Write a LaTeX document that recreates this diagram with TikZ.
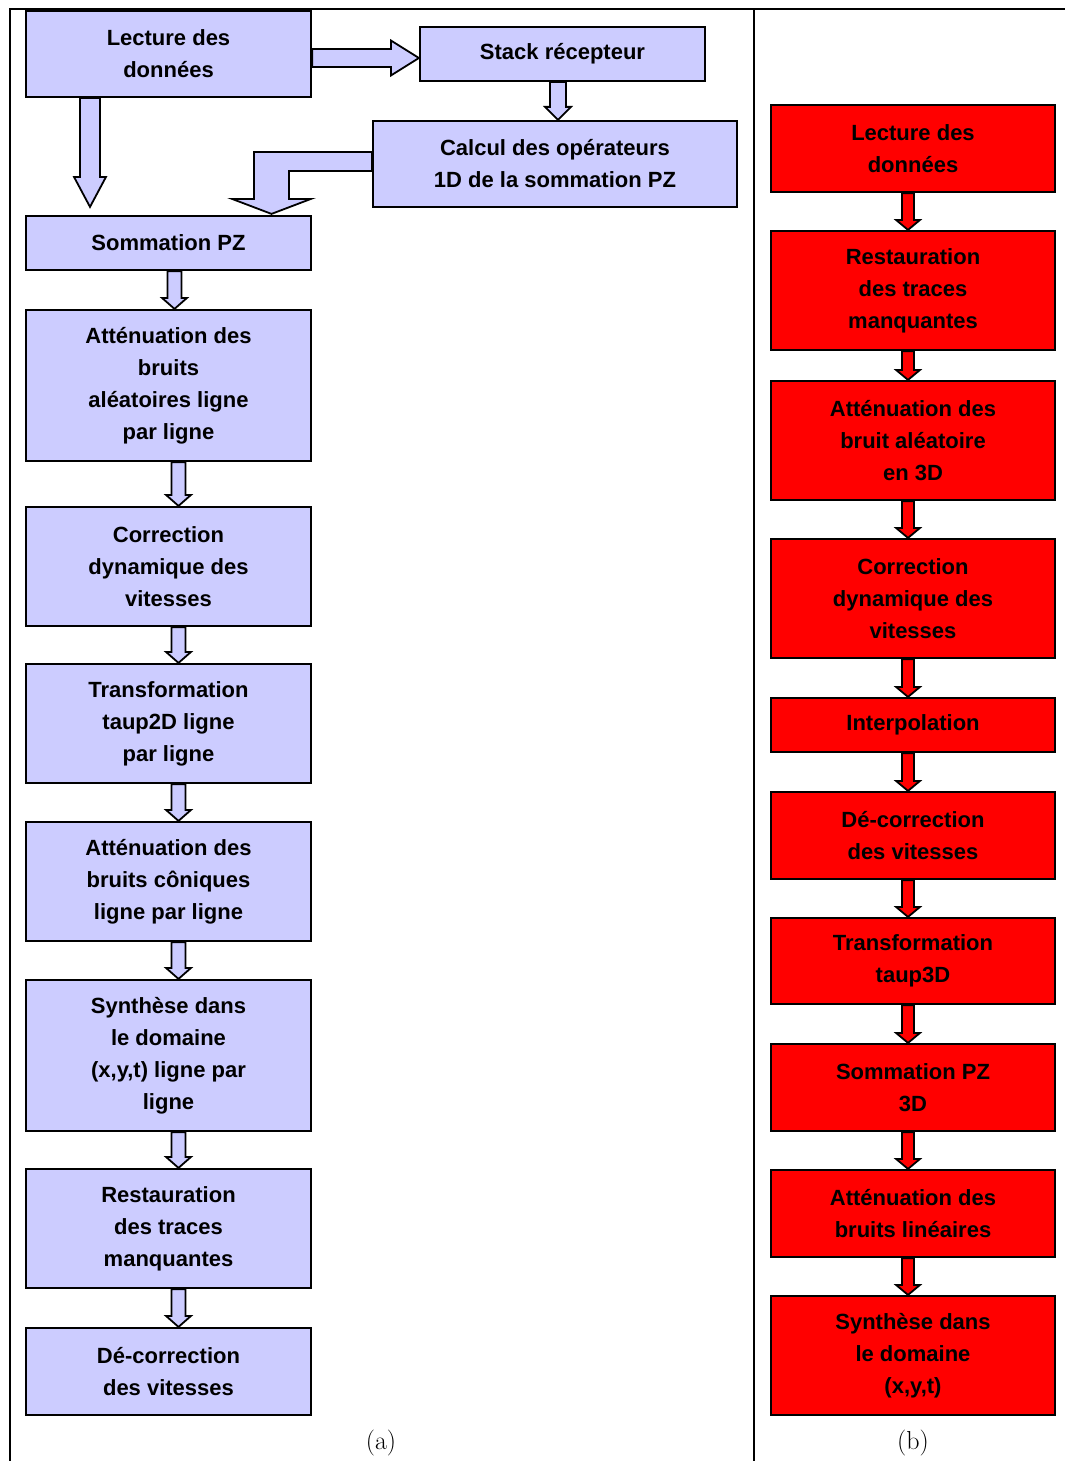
\documentclass[tikz,border=0pt]{standalone}
\usepackage{fontspec}
\newfontfamily\boxfont{Liberation Sans}
\usetikzlibrary{calc}
\definecolor{boxblue}{RGB}{204,204,255}
\definecolor{boxred}{RGB}{255,0,0}
\tikzset{
  boxA/.style={draw=black,line width=2.2pt,fill=boxblue,minimum width=285pt,inner sep=0pt,
    align=center,font=\boxfont\bfseries\fontsize{22}{32}\selectfont},
  boxB/.style={boxA,fill=boxred,minimum width=284pt},
  flowA/.style={draw=black,line width=1.8pt,fill=boxblue,line join=miter},
  flowB/.style={flowA,fill=boxred}
}
\begin{document}
\begin{tikzpicture}[x=1pt,y=-1pt]
  \useasboundingbox (0,0) rectangle (1065,1461);
  % frame
  \draw[line width=2.5pt] (10,1461) -- (10,9) -- (1065,9);
  \draw[line width=2.5pt] (754,9) -- (754,1461);
  % (a) 2D chain
  \node[boxA,minimum height=86pt] (lecA) at (168.5,54) {Lecture des\\donn\'ees};
  \node[boxA,minimum height=54pt] (stackA) at (562.5,54) {Stack r\'ecepteur};
  \node[boxA,minimum height=86pt,minimum width=364pt] (calcA) at (555,164) {Calcul des op\'erateurs\\1D de la sommation PZ};
  \node[boxA,minimum height=54pt] (pzA) at (168.5,243) {Sommation PZ};
  \node[boxA,minimum height=151pt] (attA) at (168.5,385.5) {Att\'enuation des\\bruits\\al\'eatoires ligne\\par ligne};
  \node[boxA,minimum height=119pt] (corA) at (168.5,566.5) {Correction\\dynamique des\\vitesses};
  \node[boxA,minimum height=119pt] (taupA) at (168.5,723.5) {Transformation\\taup2D ligne\\par ligne};
  \node[boxA,minimum height=119pt] (conA) at (168.5,881.5) {Att\'enuation des\\bruits c\^oniques\\ligne par ligne};
  \node[boxA,minimum height=151pt] (synA) at (168.5,1055.5) {Synth\`ese dans\\le domaine\\(x,y,t) ligne par\\ligne};
  \node[boxA,minimum height=119pt] (resA) at (168.5,1228.5) {Restauration\\des traces\\manquantes};
  \node[boxA,minimum height=87pt] (decA) at (168.5,1371.5) {D\'e-correction\\des vitesses};
  % (b) 3D chain
  \node[boxB,minimum height=87pt] (lecB) at (913,148.5) {Lecture des\\donn\'ees};
  \node[boxB,minimum height=119pt] (resB) at (913,290.5) {Restauration\\des traces\\manquantes};
  \node[boxB,minimum height=119pt] (attB) at (913,440.5) {Att\'enuation des\\bruit al\'eatoire\\en 3D};
  \node[boxB,minimum height=119pt] (corB) at (913,598.5) {Correction\\dynamique des\\vitesses};
  \node[boxB,minimum height=54pt] (intB) at (913,725) {Interpolation};
  \node[boxB,minimum height=87pt] (decB) at (913,835.5) {D\'e-correction\\des vitesses};
  \node[boxB,minimum height=86pt] (taupB) at (913,961) {Transformation\\taup3D};
  \node[boxB,minimum height=87pt] (pzB) at (913,1087.5) {Sommation PZ\\3D};
  \node[boxB,minimum height=87pt] (linB) at (913,1213.5) {Att\'enuation des\\bruits lin\'eaires};
  \node[boxB,minimum height=119pt] (synB) at (913,1355.5) {Synth\`ese dans\\le domaine\\(x,y,t)};
  % big arrows at the top of (a)
  \path[flowA] let \p1=($(lecA.south)+(-78.5,0)$), \p2=($(pzA.north)+(0,-8)$) in
    (\x1-10pt,\y1) -- (\x1-10pt,\y2+30pt) -- (\x1-16pt,\y2+30pt) -- (\x1,\y2)
    -- (\x1+16pt,\y2+30pt) -- (\x1+10pt,\y2+30pt) -- (\x1+10pt,\y1) -- cycle;
  \path[flowA] let \p1=($(lecA.east)+(0,4)$), \p2=(stackA.west) in
    (\x1,\y1+9pt) -- (\x2-28pt,\y1+9pt) -- (\x2-28pt,\y1+17.5pt) -- (\x2,\y1)
    -- (\x2-28pt,\y1-17.5pt) -- (\x2-28pt,\y1-9pt) -- (\x1,\y1-9pt) -- cycle;
  \path[flowA] let \p1=($(stackA.south)+(-4.5,0)$), \p2=(calcA.north) in
    (\x1-8pt,\y1) -- (\x1-8pt,\y2+13pt) -- (\x1-13pt,\y2+13pt) -- (\x1,\y2)
    -- (\x1+13pt,\y2+13pt) -- (\x1+8pt,\y2+13pt) -- (\x1+8pt,\y1) -- cycle;
  \path[flowA] let \p1=(calcA.west), \p2=($(pzA.north)+(103,0)$) in
    (\x1,\y1+12pt) -- (\x2-17.5pt,\y1+12pt) -- (\x2-17.5pt,\y2+16pt) -- (\x2-39.5pt,\y2+16pt)
    -- (\x2,\y2+1pt) -- (\x2+39.5pt,\y2+16pt) -- (\x2+17.5pt,\y2+16pt) -- (\x2+17.5pt,\y1-7pt)
    -- (\x1,\y1-7pt) -- cycle;
  % small arrows
  \foreach \a/\b/\dx in {pzA/attA/6,attA/corA/10,corA/taupA/10,taupA/conA/10,
                          conA/synA/10,synA/resA/10,resA/decA/10} {
    \path[flowA] let \p1=($(\a.south)+(\dx,0)$), \p2=(\b.north) in
      (\x1-7pt,\y1) -- (\x1-7pt,\y2+11pt) -- (\x1-12.5pt,\y2+11pt) -- (\x1,\y2)
      -- (\x1+12.5pt,\y2+11pt) -- (\x1+7pt,\y2+11pt) -- (\x1+7pt,\y1) -- cycle;
  }
  \foreach \a/\b in {lecB/resB,resB/attB,attB/corB,corB/intB,intB/decB,
                     decB/taupB,taupB/pzB,pzB/linB,linB/synB} {
    \path[flowB] let \p1=($(\a.south)+(-5,0)$), \p2=(\b.north) in
      (\x1-6pt,\y1) -- (\x1-6pt,\y2+10pt) -- (\x1-12pt,\y2+10pt) -- (\x1,\y2)
      -- (\x1+12pt,\y2+10pt) -- (\x1+6pt,\y2+10pt) -- (\x1+6pt,\y1) -- cycle;
  }
  % captions
  \node[anchor=base,font=\fontsize{26}{30}\selectfont] (capA) at (381,1449) {(a)};
  \node[anchor=base,font=\fontsize{26}{30}\selectfont] (capB) at (913,1449) {(b)};
\end{tikzpicture}
\end{document}
